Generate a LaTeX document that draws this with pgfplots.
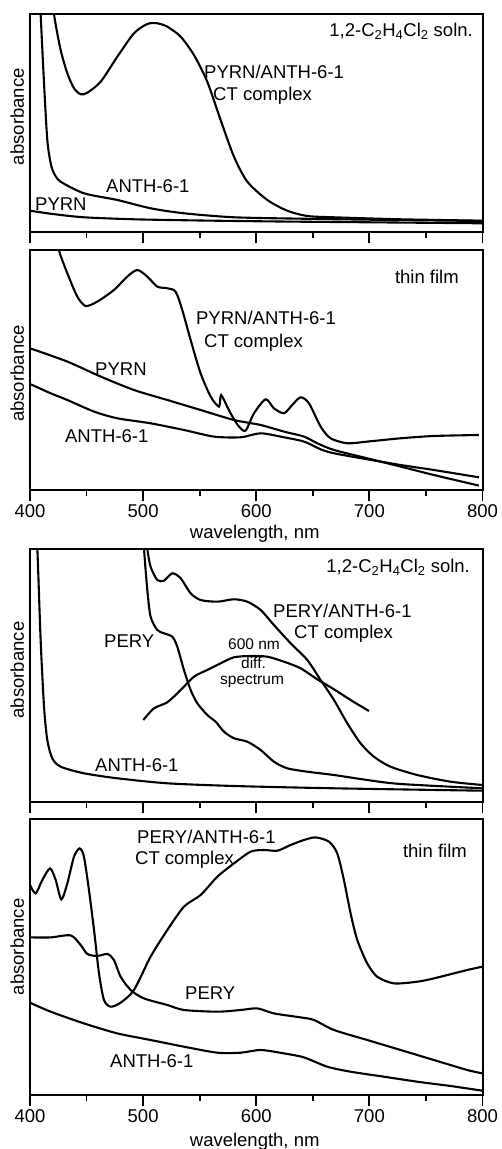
\documentclass[border=0pt]{standalone}
\usepackage{fontspec}
\setmainfont{Liberation Sans}
\usepackage{pgfplots}
\pgfplotsset{compat=1.18}
\newcommand\fs{\fontsize{18.5}{22}\selectfont}
\newcommand\fss{\fontsize{15.5}{18}\selectfont}
\pgfplotsset{
  panel/.style={
    scale only axis, width=452.5pt, anchor=north west,
    xmin=400, xmax=800,
    xtick={400,500,600,700,800},
    minor xtick={450,550,650,750},
    xtick pos=bottom, ytick=\empty,
    tick align=outside,
    major tick length=11pt, minor tick length=5.5pt,
    tick style={black, line width=1.8pt},
    axis line style={line width=2pt},
    clip mode=individual,
    /pgf/number format/assume math mode=true,
    xticklabel style={font=\fs},
    ylabel=absorbance,
    cycle list={{black}},
    every axis plot post/.append style={line width=2.1pt, black, mark=none, smooth, tension=0.45},
  },
}
\begin{document}
\begin{tikzpicture}[font=\fs]
\path[use as bounding box] (0,0) rectangle (501pt,1149pt);

% ---------- Panel 1 ----------
\begin{axis}[panel, at={(30pt,1135pt)}, height=218.5pt, ymin=-2.5, ymax=216,
  xticklabels={},
  every axis y label/.style={at={(rel axis cs:-0.0133,0.53)}, rotate=90, anchor=base, font=\fs}]
\addplot coordinates {(417,262) (421.2,216) (427.1,180) (433,156.7) (438.9,141.7) (444.8,135.7) (450.7,137.3) (462.5,148.3) (477.2,173.3) (491.9,196.7) (503.7,206) (512.5,206.7) (521.4,203.3) (533.2,193.3) (544.9,175) (556.7,148.3) (568.5,110) (580.3,73.3) (592.1,48.3) (609.8,30) (627.4,19.3) (645.1,14) (668.7,12.7) (727.6,10.7) (800,9.3)};
\addplot coordinates {(405,320) (409.4,216) (412.4,146.7) (415.3,90) (418.3,66.7) (421.2,56.7) (427.1,48.3) (447.7,36.7) (477.2,30) (506.6,21.7) (536.1,16.7) (580.3,12.7) (639.2,11.3) (700,10.3) (800,9)};
\addplot coordinates {(400,19.3) (420,16) (447.7,12.7) (491.9,10.7) (550,9.5) (620,8.5) (700,7.7) (800,6.7)};
\node[anchor=base east, inner sep=0] at (axis cs:791.6,193.3) {1,2-C\textsubscript{2}H\textsubscript{4}Cl\textsubscript{2} soln.};
\node[anchor=base west, inner sep=0] at (axis cs:553.8,151) {PYRN/ANTH-6-1};
\node[anchor=base west, inner sep=0] at (axis cs:561.8,129.3) {CT complex};
\node[anchor=base west, inner sep=0] at (axis cs:467.2,37.7) {ANTH-6-1};
\node[anchor=base west, inner sep=0] at (axis cs:404.4,19.3) {PYRN};
\end{axis}

% ---------- Panel 2 ----------
\begin{axis}[panel, at={(30pt,898.5pt)}, height=240pt, ymin=-1.2, ymax=238.8,
  xlabel={wavelength, nm},
  every axis x label/.style={at={(rel axis cs:0.4966,-0.198)}, anchor=base, font=\fs},
  every axis y label/.style={at={(rel axis cs:-0.0133,0.4875)}, rotate=90, anchor=base, font=\fs}]
\addplot coordinates {(422,262) (425.6,239) (433,216) (441.8,192.7) (449.2,183.3) (459.5,187.7) (474.2,199.3) (486,212.7) (494.9,219.3) (503.7,212.7) (512.5,202.7) (521.4,201) (528.7,197.7) (534.6,179.3) (542,149.3) (550.8,116) (559.7,92.7) (567,82.7) (568.5,93.3) (570,92.7) (577.3,76) (584.7,62.7) (590.6,58.7) (598,76) (608.3,90) (615.6,81) (624.5,76) (631.8,84.3) (639.2,92) (646.6,86) (656.9,62.7) (665.7,51) (680.5,46) (698.1,47.7) (727.6,51) (757,53.3) (796.8,54.3)};
\addplot coordinates {(400,141) (433,127.7) (462.5,112.7) (491.9,99.3) (521.4,89.3) (550.8,79.3) (580.3,69.3) (603.9,64.3) (624.5,57.7) (642.2,52.7) (654,46) (668.7,39.3) (698.1,31) (727.6,22.7) (757,14.3) (796.8,3.7)};
\addplot coordinates {(400,105.3) (418.3,96) (433,89.3) (456.6,77.7) (477.2,71) (506.6,66) (536.1,59.3) (562.6,52.7) (586.2,52) (603.9,56) (624.5,52) (642.2,47.7) (656.9,40) (668.7,36) (698.1,30) (727.6,24.3) (757,19.3) (796.8,12)};
\node[anchor=base east, inner sep=0] at (axis cs:779.2,205.3) {thin film};
\node[anchor=base west, inner sep=0] at (axis cs:546.7,164.3) {PYRN/ANTH-6-1};
\node[anchor=base west, inner sep=0] at (axis cs:553.8,142) {CT complex};
\node[anchor=base west, inner sep=0] at (axis cs:457.5,113.3) {PYRN};
\node[anchor=base west, inner sep=0] at (axis cs:430.9,47) {ANTH-6-1};
\end{axis}

% ---------- Panel 3 ----------
\begin{axis}[panel, at={(30pt,600pt)}, height=253.5pt, ymin=-1.5, ymax=252,
  xticklabels={},
  every axis y label/.style={at={(rel axis cs:-0.0133,0.5227)}, rotate=90, anchor=base, font=\fs}]
\addplot coordinates {(403,330) (406.5,252) (409.4,161) (412.4,94.3) (415.3,61) (419.7,42.7) (427.1,34.3) (447.7,27.7) (477.2,22.7) (521.4,17.7) (580.3,15) (668.7,12.7) (800,10.3)};
\addplot coordinates {(499,290) (500.8,252) (503.7,211) (506.6,184.3) (512.5,171) (518.4,167.7) (525.8,164.3) (530.2,154.3) (536.1,131) (542,111) (547.9,97.7) (556.7,86) (564.1,79.3) (571.5,69.3) (580.3,62.7) (592.1,59.3) (603.9,51) (615.6,39.3) (627.4,32.7) (645.1,29.3) (668.7,26) (698.1,21) (727.6,17) (800,12.7)};
\addplot coordinates {(500,285) (503.7,252) (506.6,234.3) (512.5,221) (518.4,220.3) (525.8,227.7) (533.2,222.7) (542,207.7) (550.8,201) (565.6,199.3) (580.3,201.7) (592.1,199.3) (603.9,191) (615.6,176) (630.4,157.7) (645.1,141) (656.9,121) (668.7,101) (680.5,77.7) (692.2,57.7) (704,44.3) (718.7,34.3) (742.3,26) (771.7,19.3) (800,16)};
\addplot[line width=1.4pt] coordinates {(500.2,81) (509.6,92.7) (521.4,98.7) (533.2,111) (544.9,124.3) (556.7,131) (568.5,137.7) (580.3,143.7) (595,145) (609.8,144.3) (624.5,139.3) (639.2,132.7) (653.9,121.7) (668.7,111.7) (683.4,101) (699.6,90)};
\node[anchor=base east, inner sep=0] at (axis cs:789,228.3) {1,2-C\textsubscript{2}H\textsubscript{4}Cl\textsubscript{2} soln.};
\node[anchor=base west, inner sep=0] at (axis cs:614.8,183.7) {PERY/ANTH-6-1};
\node[anchor=base west, inner sep=0] at (axis cs:633.4,162.7) {CT complex};
\node[anchor=base west, inner sep=0] at (axis cs:465.4,153.7) {PERY};
\node[anchor=base, inner sep=0, font=\fss] at (axis cs:598,151) {600 nm};
\node[anchor=base, inner sep=0, font=\fss] at (axis cs:597.6,132) {diff.};
\node[anchor=base, inner sep=0, font=\fss] at (axis cs:596.3,116) {spectrum};
\node[anchor=base west, inner sep=0] at (axis cs:457.5,29.3) {ANTH-6-1};
\end{axis}

% ---------- Panel 4 ----------
\begin{axis}[panel, at={(30pt,330pt)}, height=276pt, ymin=1.7, ymax=277.7,
  xlabel={wavelength, nm},
  every axis x label/.style={at={(rel axis cs:0.4966,-0.1848)}, anchor=base, font=\fs},
  every axis y label/.style={at={(rel axis cs:-0.0133,0.537)}, rotate=90, anchor=base, font=\fs}]
\addplot coordinates {(400,211.7) (405,203.3) (410.9,216.7) (417.7,228.3) (422.7,216.7) (427.7,197.3) (433,213.3) (438.9,240) (443.9,248.3) (447.7,240) (452.1,206.7) (456.6,166.7) (461,123.3) (465.4,96.7) (471.3,90) (480.1,94) (491.9,106.7) (506.6,140) (521.4,166.7) (536.1,190) (550.8,201.7) (565.6,220) (580.3,233.3) (595,245) (606.8,246.7) (618.6,246) (630.4,251.7) (642.2,256.7) (652.5,259.3) (664.3,255) (671.6,243.3) (677.5,216.7) (683.4,183.3) (689.3,156.7) (698.1,133.3) (706.9,120) (721.7,113.3) (742.3,115) (757,118.3) (786.5,126.7) (800,130)};
\addplot coordinates {(400,159.3) (418.3,159.3) (435.9,161.3) (444.8,151.7) (450.7,142.7) (459.5,140.7) (468.4,142.7) (474.2,136.7) (480.1,120) (489,106.7) (500.7,98.3) (521.4,91.7) (536.1,86.7) (565.6,85) (586.2,86.7) (601,88.3) (615.6,83.3) (639.2,79.3) (651,76.7) (668.7,66.7) (698.1,56.7) (727.6,46.7) (757,36.7) (786.5,26.7) (800,23.3)};
\addplot coordinates {(400,94) (418.3,85) (447.7,73.3) (477.2,63.3) (506.6,56.7) (536.1,50) (565.6,44) (586.2,44) (603.9,46.7) (624.5,43.3) (642.2,39.3) (662.8,30) (683.4,25) (712.9,20) (742.3,15) (771.7,10.7) (800,6)};
\node[anchor=base west, inner sep=0] at (axis cs:494.6,252.7) {PERY/ANTH-6-1};
\node[anchor=base west, inner sep=0] at (axis cs:492.8,231.7) {CT complex};
\node[anchor=base east, inner sep=0] at (axis cs:786.3,239.4) {thin film};
\node[anchor=base west, inner sep=0] at (axis cs:537,96.7) {PERY};
\node[anchor=base west, inner sep=0] at (axis cs:470.7,29.4) {ANTH-6-1};
\end{axis}
\end{tikzpicture}
\end{document}
